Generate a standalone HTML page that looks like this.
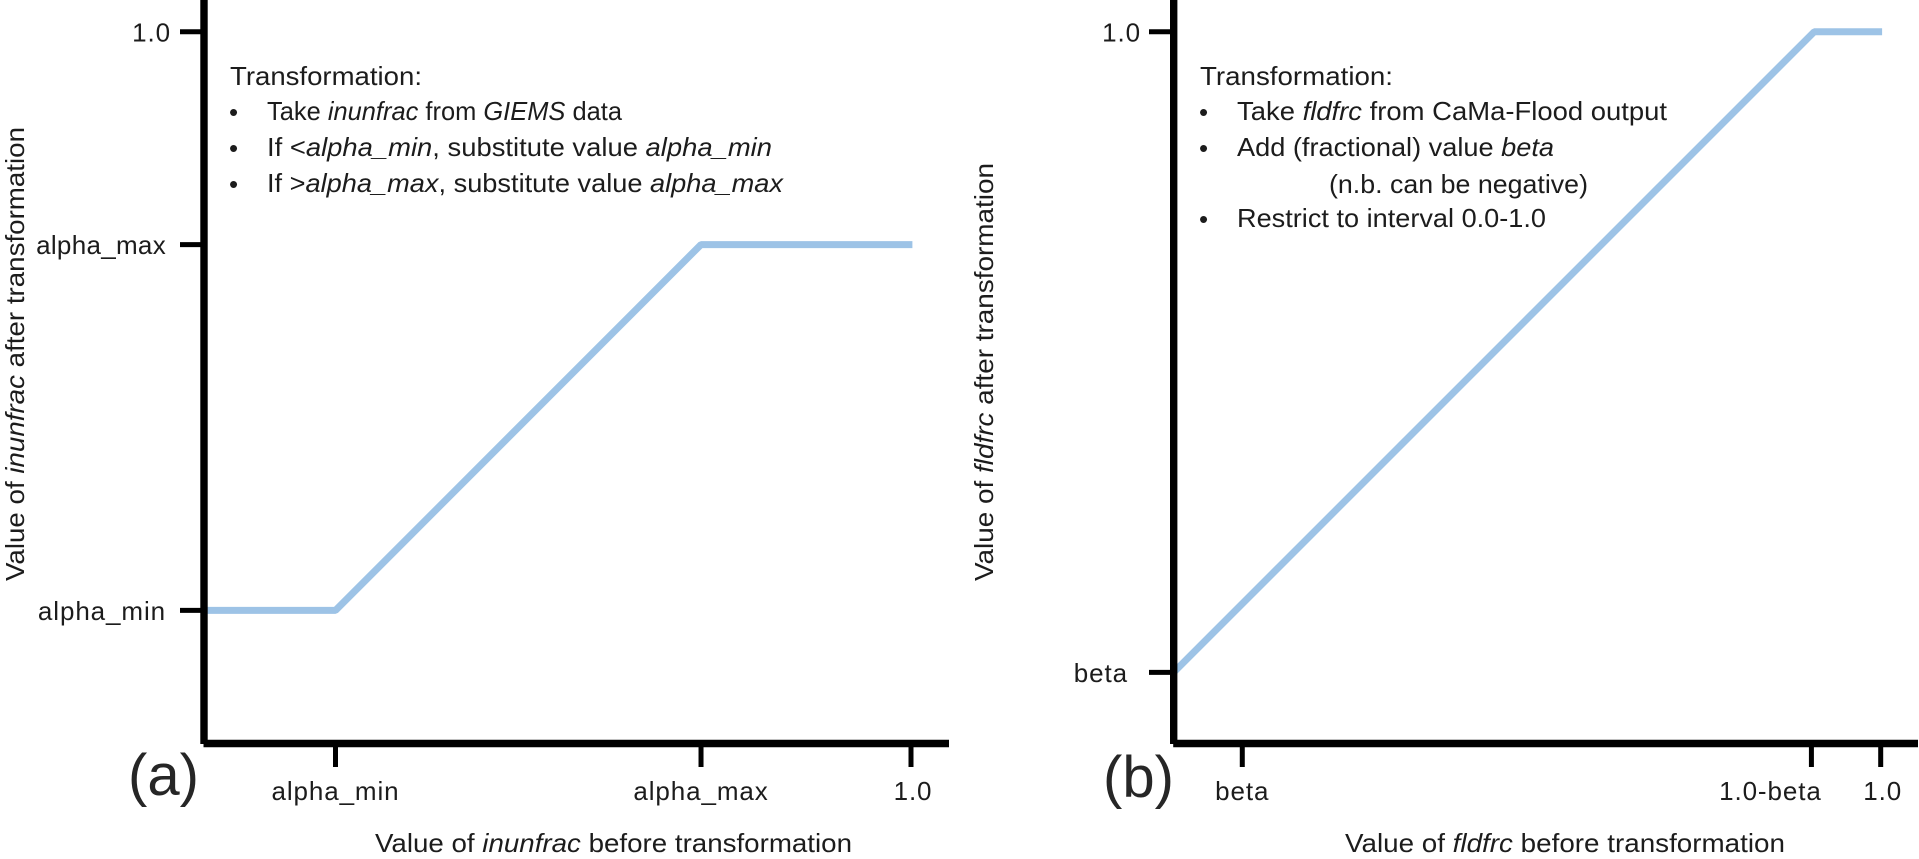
<!DOCTYPE html>
<html lang="en">
<head>
<meta charset="utf-8">
<title>Transformation of inunfrac and fldfrc</title>
<style>
html,body{margin:0;padding:0;background:#fff;}
svg{display:block;}
text{font-family:"Liberation Sans",sans-serif;fill:#1c1c1c;font-size:26px;}
.tick-label{letter-spacing:0.9px;}
.note{font-size:26px;}
.axis-title{font-size:26px;}
.panel-label{font-size:58px;fill:#262626;}
.bullet{font-size:26px;}
</style>
</head>
<body>
<svg id="figure" width="1919" height="859" viewBox="0 0 1919 859" xmlns="http://www.w3.org/2000/svg">
  <rect x="0" y="0" width="1919" height="859" fill="#ffffff"/>
  <g id="panel-a"></g>
  <g id="panel-b"></g>

  <g>
    <text class="note" x="230" y="85" textLength="192" lengthAdjust="spacingAndGlyphs">Transformation:</text>
    <text class="bullet" x="229" y="121">•</text>
    <text class="note" x="267" y="120" textLength="355" lengthAdjust="spacingAndGlyphs">Take <tspan font-style="italic">inunfrac</tspan> from <tspan font-style="italic">GIEMS</tspan> data</text>
    <text class="bullet" x="229" y="157">•</text>
    <text class="note" x="267" y="156" textLength="505" lengthAdjust="spacingAndGlyphs">If &lt;<tspan font-style="italic">alpha_min</tspan>, substitute value <tspan font-style="italic">alpha_min</tspan></text>
    <text class="bullet" x="229" y="193">•</text>
    <text class="note" x="267" y="192" textLength="516" lengthAdjust="spacingAndGlyphs">If &gt;<tspan font-style="italic">alpha_max</tspan>, substitute value <tspan font-style="italic">alpha_max</tspan></text>
  </g>

  <g>
    <text class="note" x="1200" y="85" textLength="193" lengthAdjust="spacingAndGlyphs">Transformation:</text>
    <text class="bullet" x="1199" y="121">•</text>
    <text class="note" x="1237" y="120" textLength="430" lengthAdjust="spacingAndGlyphs">Take <tspan font-style="italic">fldfrc</tspan> from CaMa-Flood output</text>
    <text class="bullet" x="1199" y="157">•</text>
    <text class="note" x="1237" y="156" textLength="317" lengthAdjust="spacingAndGlyphs">Add (fractional) value <tspan font-style="italic">beta</tspan></text>
    <text class="note" x="1329" y="193" textLength="259" lengthAdjust="spacingAndGlyphs">(n.b. can be negative)</text>
    <text class="bullet" x="1199" y="228">•</text>
    <text class="note" x="1237" y="227" textLength="309" lengthAdjust="spacingAndGlyphs">Restrict to interval 0.0-1.0</text>
  </g>

  <text class="axis-title" x="375" y="852" textLength="477" lengthAdjust="spacingAndGlyphs">Value of <tspan font-style="italic">inunfrac</tspan> before transformation</text>
  <text class="axis-title" transform="translate(24 581) rotate(-90)" x="0" y="0" textLength="454" lengthAdjust="spacingAndGlyphs">Value of <tspan font-style="italic">inunfrac</tspan> after transformation</text>
  <text class="panel-label" x="128" y="795" textLength="71" lengthAdjust="spacingAndGlyphs">(a)</text>

  <text class="axis-title" x="1345" y="852" textLength="440" lengthAdjust="spacingAndGlyphs">Value of <tspan font-style="italic">fldfrc</tspan> before transformation</text>
  <text class="axis-title" transform="translate(993 581) rotate(-90)" x="0" y="0" textLength="418" lengthAdjust="spacingAndGlyphs">Value of <tspan font-style="italic">fldfrc</tspan> after transformation</text>
  <text class="panel-label" x="1103" y="797" textLength="71" lengthAdjust="spacingAndGlyphs">(b)</text>
</svg>

<script>
// Panel (a) data
var seriesAx = [0, 0.186, 0.703, 1.002];
var seriesAy = [0.187, 0.187, 0.701, 0.701];
var xTicksA = [0.186, 0.703, 1.0];
var xTickLabelsA = ['alpha_min', 'alpha_max', '1.0'];
var yTicksA = [0.187, 0.701, 1.0];
var yTickLabelsA = ['alpha_min', 'alpha_max', '1.0'];

// Panel (b) data
var seriesBx = [0, 0.906, 1.002];
var seriesBy = [0.1, 1.0, 1.0];
var xTicksB = [0.097, 0.902, 1.0];
var xTickLabelsB = ['beta', '1.0-beta', '1.0'];
var yTicksB = [0.1, 1.0];
var yTickLabelsB = ['beta', '1.0'];

var SVG_NS = 'http://www.w3.org/2000/svg';

function makeScale(d0, d1, r0, r1) {
  return function (v) { return r0 + (v - d0) / (d1 - d0) * (r1 - r0); };
}

function addLine(parent, x1, y1, x2, y2, width, name) {
  var el = document.createElementNS(SVG_NS, 'line');
  el.setAttribute('x1', x1);
  el.setAttribute('y1', y1);
  el.setAttribute('x2', x2);
  el.setAttribute('y2', y2);
  el.setAttribute('stroke', '#000000');
  el.setAttribute('stroke-width', width);
  
  
  parent.appendChild(el);
  return el;
}

function addLabel(parent, x, y, anchor, content, name) {
  var el = document.createElementNS(SVG_NS, 'text');
  el.setAttribute('x', x);
  el.setAttribute('y', y);
  el.setAttribute('text-anchor', anchor);
  el.setAttribute('class', 'tick-label');
  el.textContent = content;
  
  
  parent.appendChild(el);
  return el;
}

function drawPanel(p) {
  var g = document.getElementById(p.id);
  var x = makeScale(0, 1, p.xLeft, p.xOne);
  var y = makeScale(0, 1, 743.5, 31.8);

  // series
  var pts = [];
  for (var i = 0; i < p.sx.length; i++) {
    pts.push(x(p.sx[i]).toFixed(1) + ',' + y(p.sy[i]).toFixed(1));
  }
  var poly = document.createElementNS(SVG_NS, 'polyline');
  poly.setAttribute('points', pts.join(' '));
  poly.setAttribute('fill', 'none');
  poly.setAttribute('stroke', '#9dc3e6');
  poly.setAttribute('stroke-width', '7');
  poly.setAttribute('stroke-linejoin', 'bevel');
  
  
  g.appendChild(poly);

  // axes
  addLine(g, p.xLeft, 0, p.xLeft, 744, 7.4, 'y-axis-line');
  addLine(g, p.xLeft - 0.5, 743.5, p.xEnd, 743.5, 7.4, 'x-axis-line');

  // x ticks
  for (var a = 0; a < p.xTicks.length; a++) {
    var tx = x(p.xTicks[a]);
    addLine(g, tx, 744, tx, 767, 5, 'x-tick');
    addLabel(g, tx + p.xLabelDx[a], 800, 'middle', p.xLabels[a], 'x-tick-label');
  }

  // y ticks
  for (var b = 0; b < p.yTicks.length; b++) {
    var ty = y(p.yTicks[b]);
    addLine(g, p.yTickStart, ty, p.xLeft, ty, 5, 'y-tick');
    var lab = addLabel(g, p.yLabelEnd[b], ty + 9.5, 'end', p.yLabels[b], 'y-tick-label');
    lab.style.letterSpacing = p.yLabelSpacing[b] + 'px';
  }
}

drawPanel({
  id: 'panel-a', xLeft: 204, xOne: 911, xEnd: 949, yTickStart: 180,
  sx: seriesAx, sy: seriesAy,
  xTicks: xTicksA, xLabels: xTickLabelsA, xLabelDx: [0, 0, 2],
  yTicks: yTicksA, yLabels: yTickLabelsA, yLabelEnd: [166, 166, 171], yLabelSpacing: [0.9, 0.3, 0.9]
});

drawPanel({
  id: 'panel-b', xLeft: 1173.7, xOne: 1880.7, xEnd: 1918, yTickStart: 1149,
  sx: seriesBx, sy: seriesBy,
  xTicks: xTicksB, xLabels: xTickLabelsB, xLabelDx: [0, -41, 2],
  yTicks: yTicksB, yLabels: yTickLabelsB, yLabelEnd: [1128, 1141], yLabelSpacing: [0.9, 0.9]
});
</script>
</body>
</html>
